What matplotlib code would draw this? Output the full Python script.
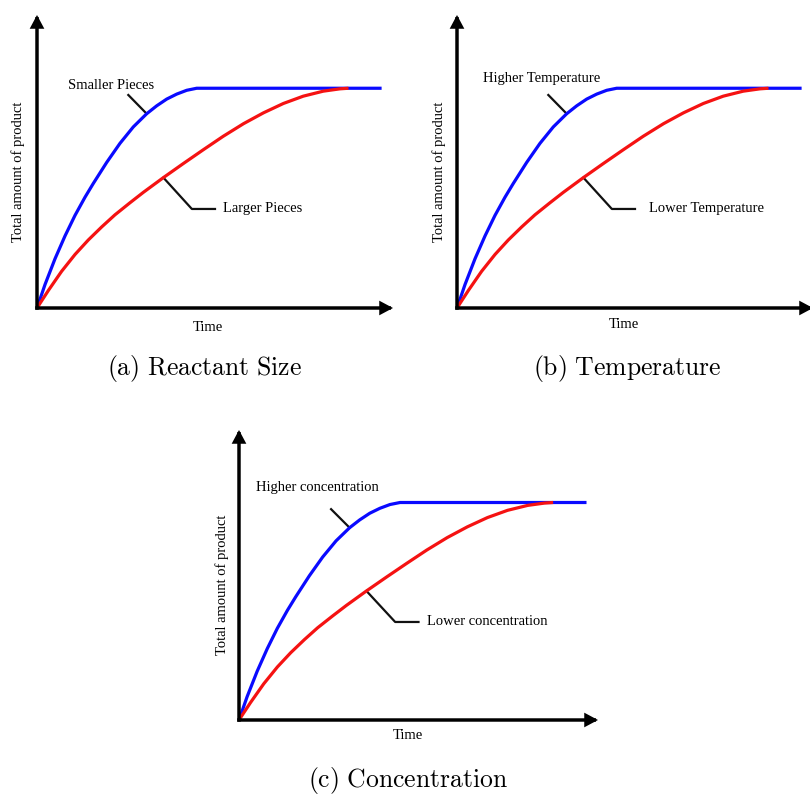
import matplotlib
matplotlib.use("Agg")
import matplotlib.pyplot as plt

plt.rcParams['mathtext.fontset'] = 'cm'

# ---- data (time and product in arbitrary units) ----
time_fast = [0, 0.225, 0.506, 0.787, 1.067, 1.348, 1.581, 1.958, 2.331, 2.705,
             3.081, 3.362, 3.643, 3.924, 4.205, 4.486, 9.68]
product_fast = [0, 0.80, 1.68, 2.46, 3.16, 3.78, 4.25, 4.97, 5.62, 6.18,
                6.63, 6.90, 7.13, 7.30, 7.43, 7.50, 7.50]

time_slow = [0, 0.32, 0.69, 1.07, 1.44, 1.82, 2.19, 2.61, 2.99, 3.55, 4.11,
             4.67, 5.23, 5.80, 6.36, 6.92, 7.48, 8.04, 8.51, 8.75]
product_slow = [0, 0.60, 1.25, 1.83, 2.32, 2.77, 3.18, 3.59, 3.95, 4.45, 4.93,
                5.40, 5.86, 6.29, 6.66, 6.98, 7.23, 7.40, 7.48, 7.50]

captions = ["(a) Reactant Size", "(b) Temperature", "(c) Concentration"]
fast_labels = ["Smaller Pieces", "Higher Temperature", "Higher concentration"]
slow_labels = ["Larger Pieces", "Lower Temperature", "Lower concentration"]
x_label = "Time"
y_label = "Total amount of product"

W, H = 810, 794
fig = plt.figure(figsize=(W / 100, H / 100), dpi=100)

# panel geometry in pixels: origin x, origin y, width (to arrow tip), height (to arrow tip)
panels = [
    dict(ox=37, oy=308, w=356, h=293, cap=(204, 368), fast_txt=(2.09, 7.61),
         slow_txt=(5.22, 3.38), tl=(4.8, -0.65), yl=(-0.53, 4.64)),
    dict(ox=457, oy=308, w=356, h=293, cap=(627, 368), fast_txt=(2.39, 7.82),
         slow_txt=(5.39, 3.38), tl=(4.69, -0.58), yl=(-0.51, 4.64)),
    dict(ox=239, oy=720, w=359, h=290, cap=(408, 780), fast_txt=(0.47, 8.0),
         slow_txt=(5.25, 3.38), tl=(4.71, -0.52), yl=(-0.47, 4.66)),
]

serif = 'Liberation Serif'
fs = 10.5

for i, p in enumerate(panels):
    ax = fig.add_axes([p['ox'] / W, 1 - p['oy'] / H, p['w'] / W, p['h'] / H])
    ax.set_xlim(0, 10)
    ax.set_ylim(0, 10)
    ax.axis('off')

    ax.plot(time_fast, product_fast, color='#0a0aff', lw=2.3,
            solid_capstyle='butt', solid_joinstyle='round', clip_on=False, zorder=3)
    ax.plot(time_slow, product_slow, color='#f51212', lw=2.3,
            solid_capstyle='butt', solid_joinstyle='round', clip_on=False, zorder=4)

    # arrow axes
    ap = dict(arrowstyle='-|>,head_length=0.6,head_width=0.32', lw=2.5,
              color='black', shrinkA=0, shrinkB=0, capstyle='projecting',
              joinstyle='miter')
    ax.annotate('', xy=(10, 0), xytext=(0, 0), arrowprops=ap,
                annotation_clip=False, zorder=5)
    ax.annotate('', xy=(0, 10), xytext=(0, 0), arrowprops=ap,
                annotation_clip=False, zorder=5)

    # leader lines
    ax.plot([2.565, time_fast[10]], [7.27, product_fast[10]], color='#111111',
            lw=1.6, zorder=2, clip_on=False)
    ax.plot([time_slow[9], 4.35, 5.0], [product_slow[9], 3.38, 3.38],
            color='#111111', lw=1.6, zorder=2, clip_on=False)

    # texts
    if i == 2:
        ax.text(p['fast_txt'][0], p['fast_txt'][1], fast_labels[i], ha='left',
                va='center', fontsize=fs, family=serif)
    else:
        ax.text(p['fast_txt'][0], p['fast_txt'][1], fast_labels[i], ha='center',
                va='center', fontsize=fs, family=serif)
    ax.text(p['slow_txt'][0], p['slow_txt'][1], slow_labels[i], ha='left',
            va='center', fontsize=fs, family=serif)
    ax.text(p['tl'][0], p['tl'][1], x_label, ha='center', va='center',
            fontsize=fs, family=serif)
    ax.text(p['yl'][0], p['yl'][1], y_label, ha='center', va='center',
            rotation=90, fontsize=fs, family=serif)

    cap = captions[i].replace(' ', r'\ ')
    fig.text(p['cap'][0] / W, 1 - p['cap'][1] / H, r'$\mathrm{' + cap + '}$',
             ha='center', va='center', fontsize=18.5)

fig.savefig('out.png', dpi=100, facecolor='white')
